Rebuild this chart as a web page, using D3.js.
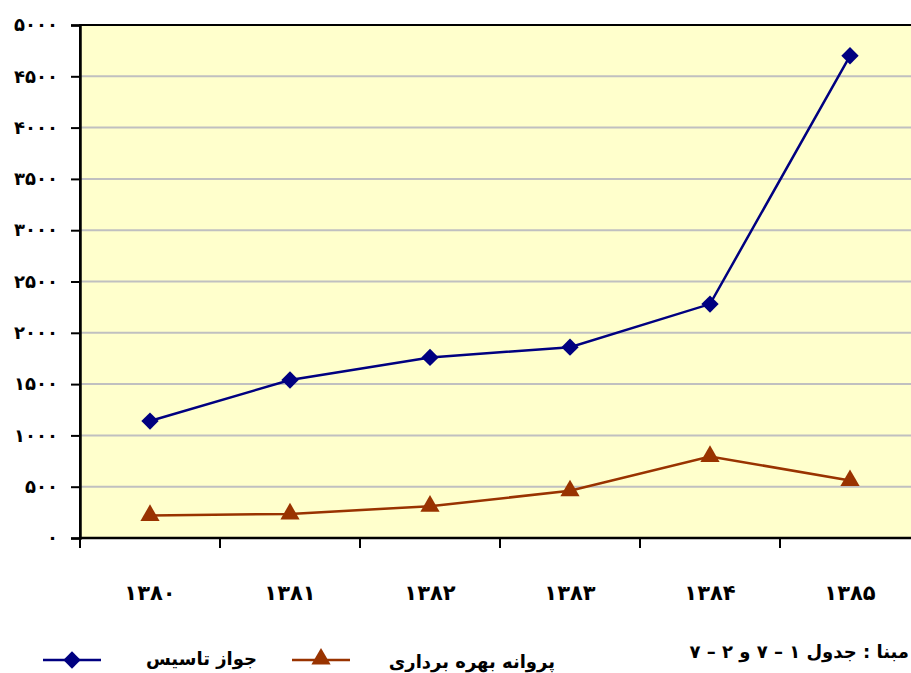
<!DOCTYPE html>
<html>
<head>
<meta charset="utf-8">
<script src="https://cdn.jsdelivr.net/npm/d3@7"></script>
<style>
  body { margin: 0; background: #fff; }
  svg { display: block; overflow: hidden; }
  text { font-family: "DejaVu Sans", sans-serif; font-weight: bold; fill: #000; }
</style>
</head>
<body>
<svg id="chart" width="911" height="673"></svg>
<script>
const years = ["1380", "1381", "1382", "1383", "1384", "1385"];
const founding_permits = [1140, 1540, 1760, 1860, 2280, 4700];
const operating_permits = [220, 235, 310, 460, 795, 560];
const y_ticks = [0, 500, 1000, 1500, 2000, 2500, 3000, 3500, 4000, 4500, 5000];

const founding_name = "جواز تاسیس";
const operating_name = "پروانه بهره برداری";
const source_note = "مبنا : جدول ۱ – ۷ و ۲ – ۷";

const to_persian = (v) => String(v).replace(/[0-9]/g, (c) => "۰۱۲۳۴۵۶۷۸۹"[+c]);

const svg = d3.select("#chart");
const plot_left = 80, plot_top = 25, plot_right = 920, plot_bottom = 538;

const x = d3.scaleBand().domain(years).range([plot_left, plot_right]);
const y = d3.scaleLinear().domain([0, 5000]).range([plot_bottom, plot_top]);
const cx = (d) => x(d) + x.bandwidth() / 2;

// plot background
svg.append("rect")
  .attr("x", plot_left).attr("y", plot_top)
  .attr("width", plot_right - plot_left).attr("height", plot_bottom - plot_top)
  .attr("fill", "#FFFFCC")
  .attr("stroke", "#000").attr("stroke-width", 2);

// grid
svg.append("g")
  .selectAll("line")
  .data(y_ticks.filter((t) => t > 0 && t < 5000))
  .enter().append("line")
  .attr("x1", plot_left).attr("x2", plot_right)
  .attr("y1", (t) => y(t)).attr("y2", (t) => y(t))
  .attr("stroke", "#C0C0C0").attr("stroke-width", 2);

// y axis
const y_axis = svg.append("g")
  .attr("transform", `translate(${plot_left},0)`)
  .call(d3.axisLeft(y).tickValues(y_ticks).tickSize(9).tickPadding(13).tickFormat(to_persian));
y_axis.select(".domain").attr("stroke", "#000").attr("stroke-width", 2.5);
y_axis.selectAll(".tick line").attr("stroke", "#000").attr("stroke-width", 2);
y_axis.selectAll("text").style("font-size", "18px").attr("fill", "#000");

// x axis line + ticks at category borders
svg.append("line")
  .attr("x1", plot_left).attr("x2", plot_right)
  .attr("y1", plot_bottom).attr("y2", plot_bottom)
  .attr("stroke", "#000").attr("stroke-width", 2.5);
svg.append("g")
  .selectAll("line")
  .data(years)
  .enter().append("line")
  .attr("x1", (d) => x(d)).attr("x2", (d) => x(d))
  .attr("y1", plot_bottom).attr("y2", plot_bottom + 10)
  .attr("stroke", "#000").attr("stroke-width", 2);
svg.append("g")
  .selectAll("text")
  .data(years)
  .enter().append("text")
  .attr("x", cx)
  .attr("y", plot_bottom + 62)
  .attr("text-anchor", "middle")
  .style("font-size", "21px")
  .text(to_persian);

// lines
const line = (vals) => d3.line().x((d, i) => cx(years[i])).y((d) => y(d))(vals);

svg.append("path")
  .attr("d", line(operating_permits))
  .attr("fill", "none").attr("stroke", "#993300").attr("stroke-width", 2.5);
svg.append("path")
  .attr("d", line(founding_permits))
  .attr("fill", "none").attr("stroke", "#000080").attr("stroke-width", 2.5);

const diamond = d3.symbol().type(d3.symbolSquare).size(150);
const triangle = d3.symbol().type(d3.symbolTriangle).size(160);

svg.append("g")
  .selectAll("path")
  .data(founding_permits)
  .enter().append("path")
  .attr("d", diamond)
  .attr("transform", (d, i) => `translate(${cx(years[i])},${y(d)}) rotate(45)`)
  .attr("fill", "#000080");

svg.append("g")
  .selectAll("path")
  .data(operating_permits)
  .enter().append("path")
  .attr("d", triangle)
  .attr("transform", (d, i) => `translate(${cx(years[i])},${y(d)})`)
  .attr("fill", "#993300");

// legend
const legend_y = 660;
const legend = svg.append("g");
legend.append("line").attr("x1", 43).attr("x2", 101).attr("y1", legend_y).attr("y2", legend_y)
  .attr("stroke", "#000080").attr("stroke-width", 2.5);
legend.append("path").attr("d", diamond)
  .attr("transform", `translate(72,${legend_y}) rotate(45)`).attr("fill", "#000080");
legend.append("text").attr("x", 257).attr("y", legend_y + 5)
  .attr("direction", "rtl").attr("text-anchor", "start")
  .style("font-size", "18px").text(founding_name);

legend.append("line").attr("x1", 292).attr("x2", 350).attr("y1", legend_y).attr("y2", legend_y)
  .attr("stroke", "#993300").attr("stroke-width", 2.5);
legend.append("path").attr("d", triangle)
  .attr("transform", `translate(321,${legend_y - 1})`).attr("fill", "#993300");
legend.append("text").attr("x", 555).attr("y", legend_y + 8)
  .attr("direction", "rtl").attr("text-anchor", "start")
  .style("font-size", "18px").text(operating_name);

svg.append("text").attr("x", 909).attr("y", legend_y - 2)
  .attr("direction", "rtl").attr("text-anchor", "start")
  .style("font-size", "18px").text(source_note);
</script>
</body>
</html>
